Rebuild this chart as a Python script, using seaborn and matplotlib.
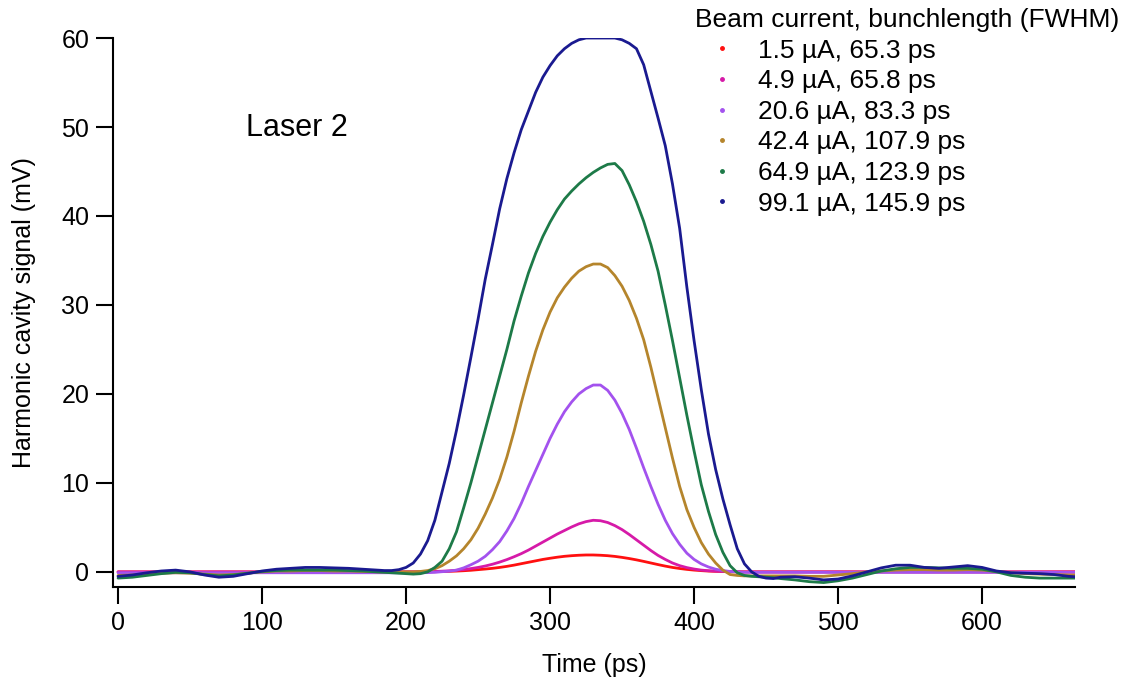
import matplotlib
matplotlib.use("Agg")
import matplotlib.pyplot as plt
import seaborn as sns
import pandas as pd
from matplotlib.lines import Line2D

# ---------------- data ----------------
time_ps = ([0, 10, 20, 30, 40, 50, 60, 70, 80, 90, 100, 110, 120, 130, 140, 150, 160, 170, 180]
           + list(range(185, 461, 5))
           + [470, 480, 490, 500, 510, 520, 530, 540, 550, 560, 570, 580, 590, 600, 610, 620, 630, 640, 650, 660, 670])

labels = ["1.5 µA, 65.3 ps", "4.9 µA, 65.8 ps", "20.6 µA, 83.3 ps",
          "42.4 µA, 107.9 ps", "64.9 µA, 123.9 ps", "99.1 µA, 145.9 ps"]
colors = ["#ff1010", "#d61aa8", "#a352ee", "#b5852c", "#1d7a48", "#1a1a90"]

sig_1p5 = ([0.0] * 19
           + [0, 0, 0, 0, 0, 0, 0,
              0.02, 0.04, 0.06, 0.09, 0.13, 0.18, 0.25, 0.32, 0.4, 0.5, 0.62, 0.76, 0.92, 1.08, 1.24, 1.4,
              1.53, 1.65, 1.75, 1.82, 1.87, 1.9, 1.9, 1.87, 1.82, 1.74, 1.63, 1.5, 1.35, 1.18, 1.0, 0.82,
              0.65, 0.5, 0.38, 0.28, 0.2, 0.14, 0.09, 0.06, 0.04, 0.02, 0.01,
              0, 0, 0, 0, 0, 0]
           + [0.0] * 21)

sig_4p9 = ([0.0] * 19
           + [0, 0, 0, 0, 0, 0, 0,
              0.05, 0.08, 0.12, 0.18, 0.26, 0.37, 0.5, 0.66, 0.86, 1.1, 1.38, 1.7, 2.05, 2.45, 2.9, 3.35,
              3.8, 4.25, 4.65, 5.05, 5.4, 5.65, 5.8, 5.75, 5.55, 5.2, 4.75, 4.2, 3.6, 3.0, 2.4, 1.85,
              1.4, 1.0, 0.7, 0.48, 0.32, 0.2, 0.13, 0.08, 0.05, 0.03, 0.01,
              0, 0, 0, 0, 0, 0]
           + [0.0] * 21)

sig_20p6 = ([-0.1] * 19
            + [-0.1, -0.1, -0.1, -0.1, -0.1, -0.1, -0.08,
               -0.05, 0.02, 0.08, 0.2, 0.45, 0.8, 1.2, 1.75, 2.5, 3.4, 4.6, 6.0, 7.7, 9.6, 11.4, 13.2,
               15.0, 16.6, 18.0, 19.1, 20.0, 20.6, 21.0, 21.0, 20.4, 19.3, 17.8, 16.0, 13.9, 11.7, 9.6, 7.6,
               5.8, 4.3, 3.1, 2.1, 1.4, 0.9, 0.55, 0.3, 0.15, 0.05, 0.0,
               -0.05, -0.05, -0.05, -0.05, -0.05, -0.05]
            + [-0.05] * 21)

sig_42p4 = ([-0.4, -0.35, -0.25, -0.15, -0.1, -0.15, -0.25, -0.35, -0.3, -0.15, 0.0, 0.1, 0.1, 0.15,
             0.15, 0.1, 0.1, 0.05, 0.0]
            + [0.0, 0.0, 0.0, 0.0, 0.0, 0.05, 0.15,
               0.35, 0.7, 1.2, 1.8, 2.6, 3.6, 4.9, 6.5, 8.3, 10.4, 12.9, 15.8, 19.0, 22.0, 24.8, 27.2,
               29.2, 30.8, 32.0, 33.0, 33.8, 34.3, 34.6, 34.6, 34.2, 33.3, 32.1, 30.5, 28.5, 26.1, 23.0, 19.6,
               16.2, 12.8, 9.6, 7.0, 5.0, 3.3, 2.0, 1.0, 0.2, -0.3, -0.4,
               -0.45, -0.45, -0.45, -0.45, -0.45, -0.45]
            + [-0.45, -0.5, -0.5, -0.35, -0.2, 0.0, 0.1, 0.2, 0.25, 0.25, 0.2, 0.2, 0.25, 0.2, 0.05,
               -0.1, -0.2, -0.25, -0.3, -0.35, -0.35])

sig_64p9 = ([-0.7, -0.6, -0.4, -0.2, -0.05, -0.1, -0.3, -0.45, -0.35, -0.15, 0.05, 0.15, 0.2, 0.2,
             0.2, 0.2, 0.15, 0.1, 0.0]
            + [-0.05, -0.1, -0.15, -0.2, -0.25, -0.2, 0.0,
               0.5, 1.2, 2.6, 4.5, 7.2, 10.0, 13.0, 16.0, 19.0, 22.0, 25.0, 28.2, 31.0, 33.6, 35.8, 37.7,
               39.3, 40.7, 41.9, 42.8, 43.6, 44.3, 44.9, 45.4, 45.8, 45.9, 45.1, 43.5, 41.6, 39.4, 36.8, 33.8,
               30.0, 26.0, 21.8, 17.6, 13.6, 9.8, 6.8, 4.2, 2.2, 0.7, -0.1,
               -0.4, -0.5, -0.55, -0.6, -0.65, -0.75]
            + [-0.9, -1.1, -1.2, -1.0, -0.7, -0.3, 0.1, 0.35, 0.5, 0.5, 0.45, 0.4, 0.4, 0.3, 0.0,
               -0.4, -0.6, -0.7, -0.7, -0.7, -0.7])

sig_99p1 = ([-0.5, -0.35, -0.1, 0.1, 0.2, 0.0, -0.35, -0.6, -0.5, -0.2, 0.1, 0.3, 0.4, 0.5,
             0.5, 0.45, 0.4, 0.3, 0.2]
            + [0.15, 0.15, 0.25, 0.5, 1.0, 2.0, 3.5,
               5.8, 9.0, 12.2, 15.9, 19.9, 24.1, 28.4, 32.9, 36.8, 40.8, 44.2, 47.1, 49.7, 51.8, 53.9, 55.6,
               56.9, 58.0, 58.8, 59.4, 59.8, 60.0, 60.0, 60.0, 60.0, 60.0, 59.8, 59.4, 58.8, 57.0, 54.0, 51.0,
               47.9, 43.6, 38.6, 32.0, 26.0, 20.5, 15.5, 11.5, 8.2, 5.3, 2.6,
               0.9, 0.0, -0.5, -0.7, -0.75, -0.6]
            + [-0.55, -0.7, -0.9, -0.8, -0.45, 0.0, 0.45, 0.75, 0.75, 0.5, 0.4, 0.55, 0.7, 0.5, 0.1,
               -0.1, -0.15, -0.2, -0.3, -0.5, -0.6])

series = [sig_1p5, sig_4p9, sig_20p6, sig_42p4, sig_64p9, sig_99p1]
for s in series:
    assert len(s) == len(time_ps), (len(s), len(time_ps))

df = pd.concat([pd.DataFrame({"Time (ps)": time_ps, "signal": s, "beam": lab})
                for s, lab in zip(series, labels)], ignore_index=True)

# ---------------- plot ----------------
sns.set_style("ticks")
plt.rcParams["font.family"] = ["Liberation Sans", "DejaVu Sans"]
plt.rcParams["text.color"] = "black"
plt.rcParams["axes.labelcolor"] = "black"
plt.rcParams["xtick.color"] = "black"
plt.rcParams["ytick.color"] = "black"

fig = plt.figure(figsize=(11.3, 6.84), dpi=100)
ax = fig.add_axes([0.100, 0.1418, 0.8513, 0.8026])

palette = dict(zip(labels, colors))
sns.lineplot(data=df, x="Time (ps)", y="signal", hue="beam", hue_order=labels,
             palette=palette, sort=False, estimator=None, linewidth=2.0,
             legend=False, ax=ax)

ax.set_xlim(-3.5, 664.5)
ax.set_ylim(-1.7, 60.0)
ax.set_xticks(range(0, 601, 100))
ax.set_yticks(range(0, 61, 10))
ax.set_xlabel("Time (ps)", fontsize=18, labelpad=13, color="black")
ax.set_ylabel("Harmonic cavity signal (mV)", fontsize=18, labelpad=18, color="black")
ax.tick_params(axis="both", which="major", direction="out", length=12, width=1.5,
               labelsize=18, color="black", labelcolor="black", pad=5)
sns.despine(ax=ax)
for sp in ["left", "bottom"]:
    ax.spines[sp].set_linewidth(1.5)
    ax.spines[sp].set_color("black")

ax.text(124, 49.9, "Laser 2", fontsize=22, ha="center", va="center", color="black")

handles = [Line2D([], [], linestyle="none", marker="o", markersize=2.5,
                  markerfacecolor=c, markeredgecolor=c) for c in colors]
leg = ax.legend(handles, labels, title="Beam current, bunchlength (FWHM)",
                loc="upper left", bbox_to_anchor=(695 / 1130, 1 - 8 / 684),
                bbox_transform=fig.transFigure, frameon=False, fontsize=19,
                title_fontsize=19, borderpad=0, handlelength=2.05, handletextpad=0.35,
                labelspacing=0.25, alignment="left", borderaxespad=0)
leg.get_title().set_color("black")
for t in leg.get_texts():
    t.set_color("black")

fig.savefig("out.png", dpi=100)
